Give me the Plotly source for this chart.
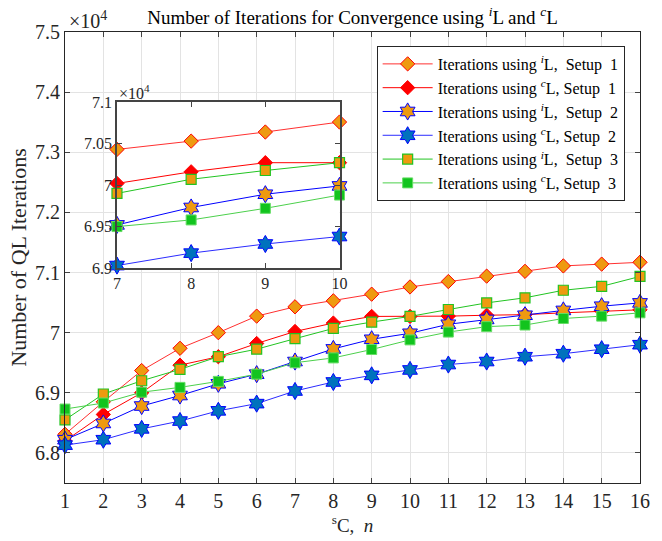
import plotly.graph_objects as go

# Iteration counts per number of sensing cells n (raw counts, axis shows x10^4)
n_cells = list(range(1, 17))
iters_iL_setup1 = [68310, 68850, 69370, 69740, 70000, 70275, 70430, 70530,
                   70640, 70760, 70850, 70940, 71020, 71110, 71140, 71170]
iters_cL_setup1 = [68200, 68640, 69000, 69460, 69600, 69820, 70020, 70160,
                   70270, 70270, 70275, 70290, 70300, 70330, 70360, 70380]
iters_iL_setup2 = [68220, 68490, 68780, 68955, 69150, 69310, 69520, 69730,
                   69890, 69990, 70140, 70220, 70290, 70370, 70440, 70495]
iters_cL_setup2 = [68130, 68220, 68400, 68530, 68700, 68820, 69030, 69180,
                   69290, 69380, 69470, 69520, 69600, 69650, 69725, 69800]
iters_iL_setup3 = [68550, 68980, 69200, 69390, 69600, 69725, 69900, 70070,
                   70176, 70270, 70385, 70495, 70580, 70705, 70770, 70935]
iters_cL_setup3 = [68730, 68830, 69010, 69090, 69190, 69310, 69500, 69580,
                   69720, 69880, 70010, 70100, 70127, 70236, 70275, 70330]

SCALE = 1e4
inset_cells = [7, 8, 9, 10]
main_yticks = [6.8, 6.9, 7.0, 7.1, 7.2, 7.3, 7.4, 7.5]
main_yticktext = ["6.8", "6.9", "7", "7.1", "7.2", "7.3", "7.4", "7.5"]
inset_yticks = [6.9, 6.95, 7.0, 7.05, 7.1]
inset_yticktext = ["6.9", "6.95", "7", "7.05", "7.1"]

FONT = "Liberation Serif, Times New Roman, serif"
ORANGE = "#EE9A10"
RED = "#FF0000"
BLUE = "#0000FF"
MBLUE = "#0072BD"
GREEN = "#22C422"
FGREEN = "#12C41E"
INK = "#262626"

series = [
    ("Iterations using <sup><i>i</i></sup>L,\u00a0\u00a0Setup\u00a0\u00a01", iters_iL_setup1,
     "#FF3030", dict(symbol="diamond", size=11, color=ORANGE, line=dict(color=RED, width=1))),
    ("Iterations using <sup><i>c</i></sup>L, Setup\u00a0\u00a01", iters_cL_setup1,
     RED, dict(symbol="diamond", size=11, color=RED, line=dict(color=RED, width=1))),
    ("Iterations using <sup><i>i</i></sup>L,\u00a0\u00a0Setup\u00a0\u00a02", iters_iL_setup2,
     BLUE, dict(symbol="hexagram", size=13, color=ORANGE, line=dict(color=BLUE, width=1))),
    ("Iterations using <sup><i>c</i></sup>L, Setup\u00a0\u00a02", iters_cL_setup2,
     "#2B2BFF", dict(symbol="hexagram", size=13, color=MBLUE, line=dict(color=BLUE, width=1))),
    ("Iterations using <sup><i>i</i></sup>L,\u00a0\u00a0Setup\u00a0\u00a03", iters_iL_setup3,
     GREEN, dict(symbol="square", size=10, color=ORANGE, line=dict(color=GREEN, width=1.2))),
    ("Iterations using <sup><i>c</i></sup>L, Setup\u00a0\u00a03", iters_cL_setup3,
     "#4CD04C", dict(symbol="square", size=10, color=FGREEN, line=dict(color="#66DD66", width=1))),
]

fig = go.Figure()

for i, (name, vals, lc, mk) in enumerate(series):
    fig.add_trace(go.Scatter(
        x=n_cells, y=[v / SCALE for v in vals], mode="lines+markers", name=name,
        line=dict(color=lc, width=1), marker=mk, cliponaxis=False,
        legendgroup=str(i), xaxis="x", yaxis="y"))

# zoomed view of n = 7..10
for i, (name, vals, lc, mk) in enumerate(series):
    sub = [vals[n_cells.index(c)] / SCALE for c in inset_cells]
    fig.add_trace(go.Scatter(
        x=inset_cells, y=sub, mode="lines+markers", name=name, showlegend=False,
        line=dict(color=lc, width=1), marker=mk, cliponaxis=False,
        xaxis="x2", yaxis="y2"))

axis_font = dict(family=FONT, size=20, color=INK)
inset_font = dict(family=FONT, size=16, color=INK)

fig.update_layout(
    width=662, height=541,
    margin=dict(l=65, r=22, t=32, b=54),
    paper_bgcolor="white", plot_bgcolor="white",
    font=dict(family=FONT, color=INK),
    showlegend=True,
    title=dict(
        text="Number of Iterations for Convergence using <sup><i>i</i></sup>L and <sup><i>c</i></sup>L",
        x=0.5, xref="paper", y=1 - 17 / 541, yref="container", yanchor="middle",
        font=dict(family=FONT, size=19, color="black")),
    xaxis=dict(
        domain=[0, 1], range=[1, 16], tickvals=n_cells, ticks="inside", ticklen=5,
        showline=True, mirror="ticks", linecolor=INK, linewidth=1,
        showgrid=True, gridcolor="#E3E3E3", zeroline=False, tickfont=axis_font,
        title=dict(text="<sup>s</sup>C,\u00a0\u00a0<i>n</i>", font=dict(family=FONT, size=19, color=INK), standoff=4)),
    yaxis=dict(
        domain=[0, 1], range=[6.75, 7.5], tickvals=main_yticks, ticktext=main_yticktext,
        ticks="inside", ticklen=5, showline=True, mirror="ticks", linecolor=INK,
        linewidth=1, showgrid=True, gridcolor="#E3E3E3", zeroline=False, tickfont=axis_font,
        title=dict(text="Number of QL Iterations", font=dict(family=FONT, size=22, color=INK), standoff=2)),
    xaxis2=dict(
        domain=[0.0904, 0.4774], range=[7, 10], tickvals=inset_cells, anchor="y2",
        ticks="inside", ticklen=5, showline=True, mirror="ticks", linecolor="#444444",
        linewidth=1.5, showgrid=False, zeroline=False, tickfont=inset_font),
    yaxis2=dict(
        domain=[0.4766, 0.8445], range=[6.9, 7.1], tickvals=inset_yticks, ticktext=inset_yticktext,
        anchor="x2", ticks="inside", ticklen=5, showline=True, mirror="ticks",
        linecolor="#444444", linewidth=1.5, showgrid=False, zeroline=False, tickfont=inset_font),
    legend=dict(
        x=0.542, y=0.969, xanchor="left", yanchor="top", bgcolor="white",
        bordercolor=INK, borderwidth=1, font=dict(family=FONT, size=16, color="black"),
        itemwidth=50, tracegroupgap=0, traceorder="grouped"),
    shapes=[dict(type="rect", xref="x2", yref="y2", x0=7, x1=10, y0=6.9, y1=7.1,
                 fillcolor="white", line=dict(width=0), layer="below")],
    annotations=[
        dict(text="\u00d710<sup>4</sup>", xref="paper", yref="paper", x=0.004, y=0.995,
             xanchor="left", yanchor="bottom", showarrow=False,
             font=dict(family=FONT, size=20, color=INK)),
        dict(text="\u00d710<sup>4</sup>", xref="paper", yref="paper", x=0.091, y=0.84,
             xanchor="left", yanchor="bottom", showarrow=False,
             font=dict(family=FONT, size=16, color=INK)),
    ],
)

fig.write_html("out.html")
